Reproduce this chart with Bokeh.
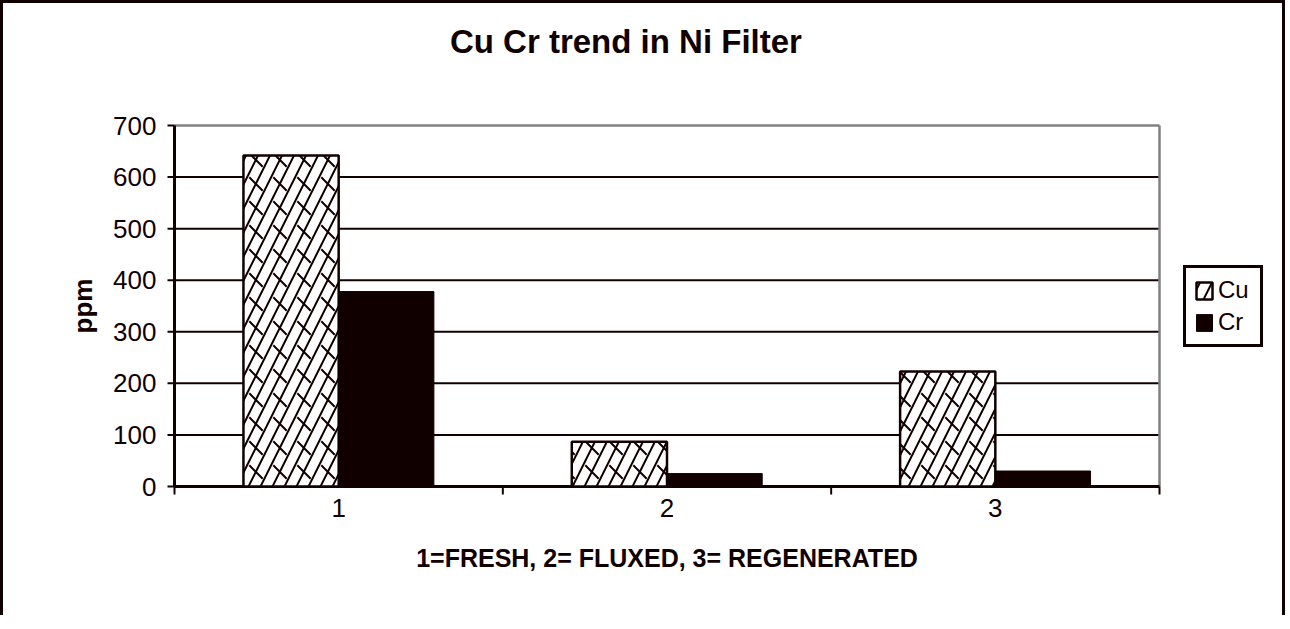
import math
from bokeh.plotting import figure
from bokeh.models import Range1d, FixedTicker, Legend, LegendItem, ColumnDataSource, Label
from bokeh.core.properties import value
from bokeh.embed import file_html
from bokeh.resources import INLINE

# ---- data ----
categories = [1, 2, 3]
cu_values = [642, 87, 223]
cr_values = [378, 25, 30]
y_ticks = [0, 100, 200, 300, 400, 500, 600, 700]
y_tick_labels = ["0", "100", "200", "300", "400", "500", "600", "700"]
grid_values = [100, 200, 300, 400, 500, 600]
title_text = "Cu  Cr trend in Ni Filter"
x_title = "1=FRESH, 2= FLUXED, 3= REGENERATED"
y_title = "ppm"

INK = "#110000"
GREY = "#808080"
FONT = "Liberation Sans"

bar_w = 0.29
off = 0.145
x_lo, x_hi = 0.5, 3.5
y_lo, y_hi = 0, 700
boundaries = [c - 0.5 for c in categories] + [categories[-1] + 0.5]

# ---- layout (pixels, canvas coordinates) ----
W, H = 1285, 615
PL, PW = 171, 985            # plot area left and width
PT, PH = 122, 361            # plot area top and height
FL, FR = 60, 1267            # frame (hosts title, legend, y axis) left/right
TOP = 8                      # frame top
EXT = 12                     # frame extends below the plot area (room for "0")
FRAME_W = FR - FL
FRAME_H = PT - TOP + PH + EXT
px_x = PW / (x_hi - x_lo)
px_y = PH / (y_hi - y_lo)
x_start = x_lo - (PL - FL) / px_x
x_end = x_hi + (FR - PL - PW) / px_x
y_start = y_lo - EXT / px_y
y_end = y_hi + (PT - TOP) / px_y

src = ColumnDataSource(dict(
    xcu=[c - off for c in categories],
    xcr=[c + off for c in categories],
    cu=cu_values,
    cr=cr_values,
))

p = figure(width=W, height=H, output_backend="svg", toolbar_location=None,
           x_range=Range1d(x_start, x_end), y_range=Range1d(y_start, y_end),
           min_border_left=FL, min_border_right=W - FR,
           min_border_top=TOP, min_border_bottom=H - TOP - FRAME_H)
p.styles = {"border-left": f"3px solid {INK}", "border-top": f"3px solid {INK}",
            "border-right": f"3px solid {INK}"}

p.background_fill_color = "white"
p.border_fill_color = "white"
p.outline_line_color = None
p.xgrid.visible = False
p.ygrid.visible = False

# chart title
p.add_layout(Label(x=567, y=FRAME_H + TOP - 38, x_units="screen", y_units="screen",
                   text=title_text, text_align="center", text_baseline="alphabetic",
                   text_font=FONT, text_font_size="33px",
                   text_font_style="bold", text_color=INK))

# grid (only across the plot area)
p.segment(x0=[x_lo] * len(grid_values), x1=[x_hi] * len(grid_values),
          y0=grid_values, y1=grid_values, line_color=INK, line_width=2)
# plot area border (top and right, grey)
p.segment(x0=[x_lo, x_hi], x1=[x_hi, x_hi], y0=[y_hi, y_lo], y1=[y_hi, y_hi],
          line_color=GREY, line_width=2.5)

# y axis, drawn at the plot area's left edge
p.yaxis.visible = False
p.segment(x0=[x_lo], x1=[x_lo], y0=[y_lo], y1=[y_hi], line_color=INK, line_width=3)
p.segment(x0=[x_lo - 7 / px_x] * len(y_ticks), x1=[x_lo] * len(y_ticks),
          y0=y_ticks, y1=y_ticks, line_color=INK, line_width=2)
p.text(x=[x_lo - 18 / px_x] * len(y_ticks), y=y_ticks, text=y_tick_labels,
       text_align="right", text_baseline="middle", text_font=value(FONT),
       text_font_size="26px", text_color=INK)
p.text(x=[x_lo - 92 / px_x], y=[(y_lo + y_hi) / 2], text=[y_title], angle=math.pi / 2,
       text_align="center", text_baseline="middle", text_font=value(FONT),
       text_font_size="26px", text_font_style="bold", text_color=INK)

# x axis line and boundary ticks, drawn at y = 0
p.segment(x0=[x_lo], x1=[x_hi], y0=[y_lo], y1=[y_lo], line_color=INK, line_width=3)
p.segment(x0=boundaries, x1=boundaries, y0=[y_lo] * len(boundaries),
          y1=[y_lo - 8 / px_y] * len(boundaries), line_color=INK, line_width=2)

# x axis (labels only) at the frame bottom
xa = p.xaxis[0]
xa.ticker = FixedTicker(ticks=categories)
xa.axis_line_color = None
xa.major_tick_line_color = None
xa.minor_tick_line_color = None
xa.major_tick_out = 0
xa.major_tick_in = 0
xa.major_label_standoff = 0
xa.major_label_text_font = FONT
xa.major_label_text_font_size = "26px"
xa.major_label_text_color = INK
xa.axis_label = x_title
xa.axis_label_text_font = FONT
xa.axis_label_text_font_size = "25px"
xa.axis_label_text_font_style = "bold"
xa.axis_label_text_color = INK
xa.axis_label_standoff = 24

# bars
r_cu = p.vbar(x="xcu", top="cu", width=bar_w, source=src,
              fill_color="white", line_color=INK, line_width=2.5,
              hatch_pattern="/", hatch_scale=24, hatch_weight=2, hatch_color=INK)
p.vbar(x="xcu", top="cu", width=bar_w, source=src,
       fill_color=None, line_color=None,
       hatch_pattern="`", hatch_scale=24, hatch_weight=2, hatch_color=INK)
r_cr = p.vbar(x="xcr", top="cr", width=bar_w, source=src,
              fill_color=INK, line_color=INK, line_width=1)

legend = Legend(items=[LegendItem(label="Cu", renderers=[r_cu]),
                       LegendItem(label="Cr", renderers=[r_cr])],
                location=(1180 - FL, 139 + EXT))
legend.border_line_color = INK
legend.border_line_alpha = 1.0
legend.border_line_width = 3
legend.background_fill_color = "white"
legend.background_fill_alpha = 1.0
legend.label_text_font = FONT
legend.label_text_font_size = "24px"
legend.label_text_color = INK
legend.glyph_width = 20
legend.glyph_height = 21
legend.label_height = 21
legend.label_width = 34
legend.label_standoff = 4
legend.padding = 8
legend.spacing = 4
legend.margin = 0
p.add_layout(legend)

open("out.html", "w").write(file_html(p, INLINE))
